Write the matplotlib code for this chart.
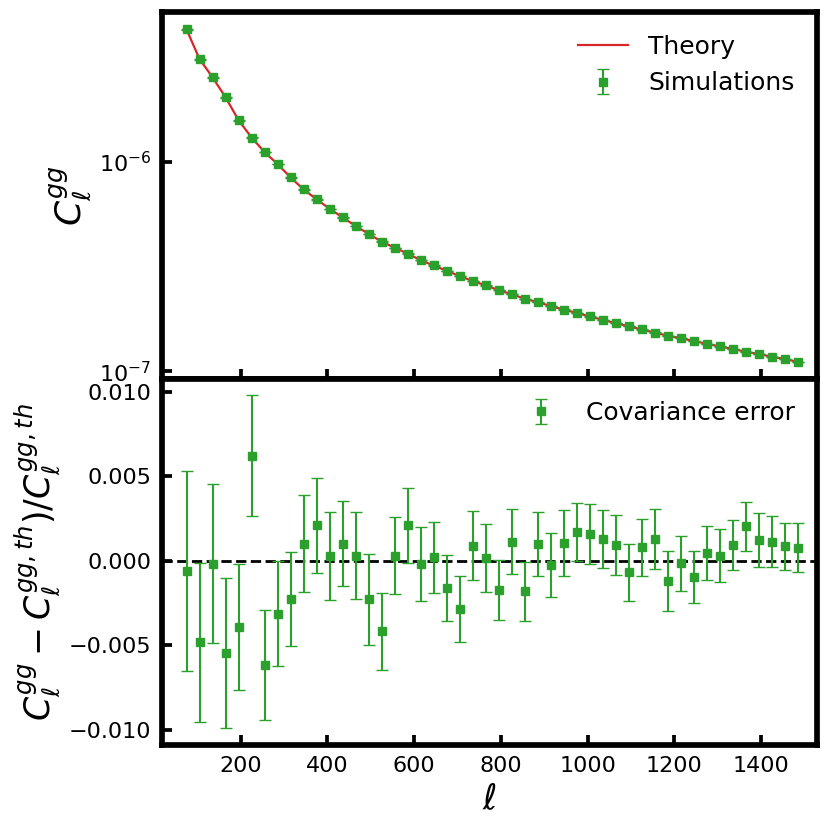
import numpy as np
import matplotlib
matplotlib.use("Agg")
import matplotlib.pyplot as plt

# ---- data ----
ell = [75, 105, 135, 165, 195, 225, 255, 285, 315, 345, 375, 405, 435, 465, 495, 525,
       555, 585, 615, 645, 675, 705, 735, 765, 795, 825, 855, 885, 915, 945, 975, 1005,
       1035, 1065, 1095, 1125, 1155, 1185, 1215, 1245, 1275, 1305, 1335, 1365, 1395,
       1425, 1455, 1485]

theory_cl = [4.28e-6, 3.09e-6, 2.53e-6, 2.03e-6, 1.58e-6, 1.306e-6, 1.112e-6, 9.75e-7,
             8.42e-7, 7.38e-7, 6.62e-7, 5.97e-7, 5.43e-7, 4.94e-7, 4.53e-7, 4.16e-7,
             3.89e-7, 3.65e-7, 3.39e-7, 3.20e-7, 3.02e-7, 2.85e-7, 2.70e-7, 2.57e-7,
             2.44e-7, 2.334e-7, 2.22e-7, 2.14e-7, 2.05e-7, 1.97e-7, 1.90e-7, 1.83e-7,
             1.76e-7, 1.70e-7, 1.64e-7, 1.585e-7, 1.53e-7, 1.48e-7, 1.44e-7, 1.395e-7,
             1.355e-7, 1.315e-7, 1.28e-7, 1.24e-7, 1.21e-7, 1.175e-7, 1.145e-7, 1.11e-7]

sim_cl = [4.28e-6, 3.09e-6, 2.53e-6, 2.03e-6, 1.58e-6, 1.306e-6, 1.112e-6, 9.75e-7,
          8.42e-7, 7.38e-7, 6.62e-7, 5.97e-7, 5.43e-7, 4.94e-7, 4.53e-7, 4.16e-7,
          3.89e-7, 3.65e-7, 3.39e-7, 3.20e-7, 3.02e-7, 2.85e-7, 2.70e-7, 2.57e-7,
          2.44e-7, 2.334e-7, 2.22e-7, 2.14e-7, 2.05e-7, 1.97e-7, 1.90e-7, 1.83e-7,
          1.76e-7, 1.70e-7, 1.64e-7, 1.585e-7, 1.53e-7, 1.48e-7, 1.44e-7, 1.395e-7,
          1.355e-7, 1.315e-7, 1.28e-7, 1.24e-7, 1.21e-7, 1.175e-7, 1.145e-7, 1.11e-7]

residual = [-0.00059, -0.0048, -0.00016, -0.00547, -0.0039, 0.0062, -0.00616, -0.00313,
            -0.00224, 0.00102, 0.0021, 0.00030, 0.00102, 0.00031, -0.00228, -0.00417,
            0.00031, 0.0021, -0.00018, 0.00020, -0.00161, -0.00283, 0.00089, 0.00016,
            -0.0017, 0.00114, -0.00181, 0.0010, -0.00026, 0.00106, 0.00171, 0.00159,
            0.00128, 0.00092, -0.00069, 0.00079, 0.00128, -0.0012, -0.00014, -0.00096,
            0.00047, 0.00030, 0.00094, 0.00203, 0.00122, 0.00114, 0.00085, 0.00077]

cov_err = [0.0059, 0.0047, 0.00467, 0.00443, 0.00373, 0.00358, 0.00326, 0.00311,
           0.00278, 0.00288, 0.0028, 0.0026, 0.0025, 0.00255, 0.00268, 0.00226,
           0.00228, 0.0022, 0.0022, 0.00212, 0.00194, 0.00196, 0.00205, 0.00203,
           0.00177, 0.0019, 0.00175, 0.0019, 0.00188, 0.00195, 0.00173, 0.00177,
           0.00172, 0.00178, 0.0017, 0.00166, 0.00178, 0.00176, 0.00163, 0.00155,
           0.00158, 0.00158, 0.00146, 0.00145, 0.0016, 0.00152, 0.00141, 0.00146]

sim_err = [e * c for e, c in zip(cov_err, theory_cl)]

GREEN = "#2ca02c"
RED = "#d62728"

fig = plt.figure(figsize=(8.3, 8.3), dpi=100)
gs = fig.add_gridspec(2, 1, hspace=0.0)
ax1 = fig.add_subplot(gs[0])
ax2 = fig.add_subplot(gs[1], sharex=ax1)
fig.subplots_adjust(left=0.1955, right=0.9847, top=0.9852, bottom=0.1024)

ax1.plot(ell, theory_cl, color=RED, lw=1.6, label="Theory", zorder=2)
ax1.errorbar(ell, sim_cl, yerr=sim_err, fmt="s", color=GREEN, ms=6, capsize=4,
             elinewidth=1.5, label="Simulations", zorder=3)
ax1.set_yscale("log")
ax1.set_ylabel(r"$C_\ell^{gg}$", fontsize=26)
ax1.legend(loc="upper right", frameon=False, fontsize=18)
ax1.tick_params(labelbottom=False)

ax2.errorbar(ell, residual, yerr=cov_err, fmt="s", color=GREEN, ms=6, capsize=4,
             elinewidth=1.5, label="Covariance error", zorder=3)
ax2.axhline(0.0, color="black", ls="--", lw=2, zorder=2)
ax2.set_ylabel(r"$C_\ell^{gg} - C_\ell^{gg,th})/C_\ell^{gg,th}$", fontsize=25)
ax2.set_xlabel(r"$\ell$", fontsize=25)
ax2.legend(loc="upper right", frameon=False, fontsize=18)
ax2.set_xlim(19, 1530)
ax2.set_yticks([-0.010, -0.005, 0.000, 0.005, 0.010])

for ax in (ax1, ax2):
    for s in ax.spines.values():
        s.set_linewidth(4.1)
    ax.tick_params(which="major", direction="in", length=7.5, width=2.7,
                   labelsize=16, pad=8)
    ax.tick_params(which="minor", length=0, width=0)

fig.savefig("out.png", dpi=100)
